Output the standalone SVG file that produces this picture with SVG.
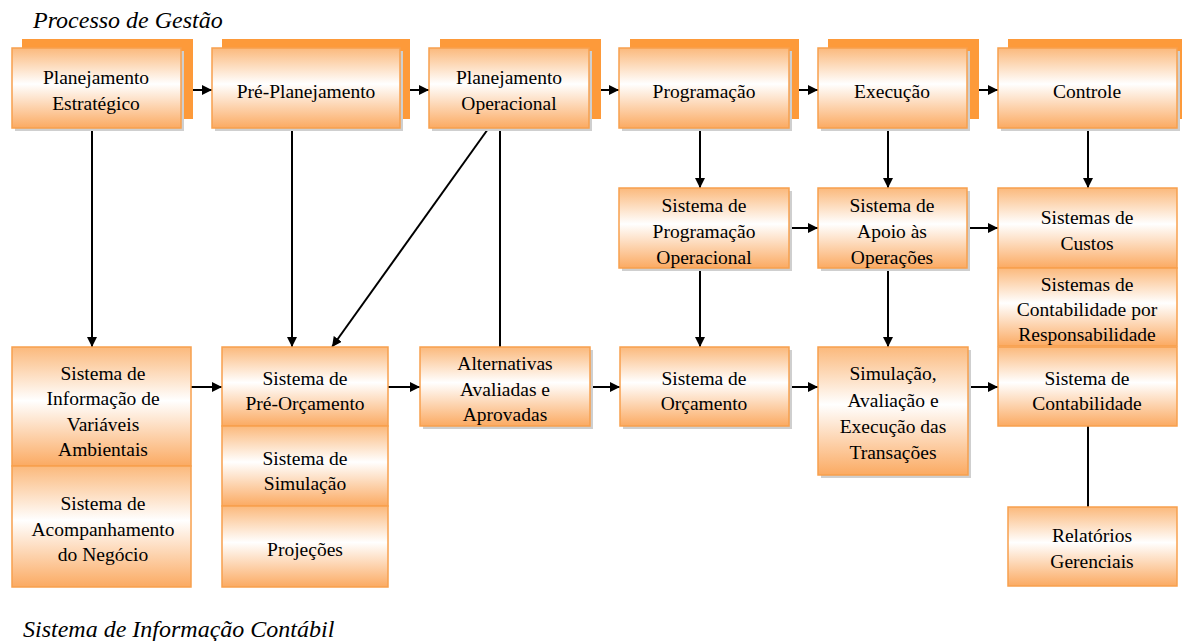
<svg xmlns="http://www.w3.org/2000/svg" width="1182" height="641" viewBox="0 0 1182 641" font-family="Liberation Serif, Times New Roman, DejaVu Serif, Noto Serif, serif">
<defs>
<linearGradient id="g" x1="0" y1="0" x2="0" y2="1">
<stop offset="0" stop-color="#fbb97c"/>
<stop offset="0.45" stop-color="#ffffff"/>
<stop offset="1" stop-color="#fbaa62"/>
</linearGradient>
<marker id="ah" viewBox="0 0 10 10" refX="10" refY="5" markerWidth="10" markerHeight="10" markerUnits="userSpaceOnUse" orient="auto">
<path d="M0,0 L10,5 L0,10 z" fill="#000"/>
</marker>
<style>
.b{fill:url(#g);stroke:#f7a04e;stroke-width:1.5}
.sh{fill:#cfcfcf}
.bk{fill:#fd9a3a}
.t{font-size:19.5px;fill:#000;text-anchor:middle}
.ti{font-size:24px;font-style:italic;fill:#000}
.c{stroke:#000;stroke-width:2;fill:none}
.a{marker-end:url(#ah)}
</style>
</defs>
<text class="ti" x="33" y="28">Processo de Gestão</text>
<text class="ti" x="23" y="637">Sistema de Informação Contábil</text>

<g id="connectors">
<line class="c a" x1="181" y1="90" x2="212" y2="90"/>
<line class="c a" x1="400" y1="90" x2="429" y2="90"/>
<line class="c a" x1="589" y1="90" x2="619" y2="90"/>
<line class="c a" x1="789" y1="90" x2="818" y2="90"/>
<line class="c a" x1="967" y1="90" x2="998" y2="90"/>
<line class="c a" x1="92" y1="128" x2="92" y2="347"/>
<line class="c a" x1="292" y1="128" x2="292" y2="347"/>
<line class="c a" x1="488" y1="129" x2="332" y2="347"/>
<line class="c" x1="500" y1="128" x2="500" y2="347"/>
<line class="c a" x1="700" y1="128" x2="700" y2="188"/>
<line class="c a" x1="888" y1="128" x2="888" y2="188"/>
<line class="c a" x1="1088" y1="128" x2="1088" y2="188"/>
<line class="c a" x1="789" y1="228" x2="818" y2="228"/>
<line class="c a" x1="967" y1="228" x2="998" y2="228"/>
<line class="c a" x1="700" y1="268" x2="700" y2="347"/>
<line class="c a" x1="888" y1="268" x2="888" y2="347"/>
<line class="c a" x1="191" y1="387" x2="222" y2="387"/>
<line class="c a" x1="388" y1="387" x2="420" y2="387"/>
<line class="c a" x1="590" y1="387" x2="620" y2="387"/>
<line class="c a" x1="789" y1="387" x2="818" y2="387"/>
<line class="c a" x1="968" y1="387" x2="998" y2="387"/>
<line class="c" x1="1088" y1="426" x2="1088" y2="507"/>
</g>

<g id="n1">
<rect class="bk" x="22" y="39" width="171" height="80"/>
<rect class="sh" x="15" y="51" width="169" height="80"/>
<rect class="b" x="12" y="48" width="169" height="80"/>
<text class="t" x="96" y="84">Planejamento</text>
<text class="t" x="96" y="110">Estratégico</text>
</g>
<g id="n2">
<rect class="bk" x="222" y="39" width="188" height="80"/>
<rect class="sh" x="215" y="51" width="188" height="80"/>
<rect class="b" x="212" y="48" width="188" height="80"/>
<text class="t" x="306" y="98">Pré-Planejamento</text>
</g>
<g id="n3">
<rect class="bk" x="440" y="39" width="161" height="80"/>
<rect class="sh" x="432" y="51" width="160" height="80"/>
<rect class="b" x="429" y="48" width="160" height="80"/>
<text class="t" x="509" y="84">Planejamento</text>
<text class="t" x="509" y="110">Operacional</text>
</g>
<g id="n4">
<rect class="bk" x="630" y="39" width="169" height="80"/>
<rect class="sh" x="622" y="51" width="170" height="80"/>
<rect class="b" x="619" y="48" width="170" height="80"/>
<text class="t" x="704" y="98">Programação</text>
</g>
<g id="n5">
<rect class="bk" x="828" y="39" width="151" height="80"/>
<rect class="sh" x="821" y="51" width="149" height="80"/>
<rect class="b" x="818" y="48" width="149" height="80"/>
<text class="t" x="892" y="98">Execução</text>
</g>
<g id="n6">
<rect class="bk" x="1008" y="39" width="174" height="80"/>
<rect class="sh" x="1001" y="51" width="179" height="80"/>
<rect class="b" x="998" y="48" width="179" height="80"/>
<text class="t" x="1087" y="98">Controle</text>
</g>

<g id="n7">
<rect class="sh" x="622" y="191" width="170" height="80"/>
<rect class="b" x="619" y="188" width="170" height="80"/>
<text class="t" x="704" y="212">Sistema de</text>
<text class="t" x="704" y="238">Programação</text>
<text class="t" x="704" y="264">Operacional</text>
</g>
<g id="n8">
<rect class="sh" x="821" y="191" width="149" height="80"/>
<rect class="b" x="818" y="188" width="149" height="80"/>
<text class="t" x="892" y="212">Sistema de</text>
<text class="t" x="892" y="238">Apoio às</text>
<text class="t" x="892" y="264">Operações</text>
</g>
<g id="n9">
<rect class="b" x="998" y="188" width="179" height="80"/>
<text class="t" x="1087" y="224">Sistemas de</text>
<text class="t" x="1087" y="250">Custos</text>
</g>
<g id="n10">
<rect class="b" x="998" y="268" width="179" height="78"/>
<text class="t" x="1087" y="291">Sistemas de</text>
<text class="t" x="1087" y="316">Contabilidade por</text>
<text class="t" x="1087" y="341">Responsabilidade</text>
</g>

<g id="n11">
<rect class="b" x="12" y="347" width="179" height="119"/>
<text class="t" x="103" y="380">Sistema de</text>
<text class="t" x="103" y="405">Informação de</text>
<text class="t" x="103" y="431">Variáveis</text>
<text class="t" x="103" y="456">Ambientais</text>
</g>
<g id="n12">
<rect class="b" x="12" y="466" width="179" height="121"/>
<text class="t" x="103" y="510">Sistema de</text>
<text class="t" x="103" y="536">Acompanhamento</text>
<text class="t" x="103" y="561">do Negócio</text>
</g>
<g id="n13">
<rect class="b" x="222" y="347" width="166" height="79"/>
<text class="t" x="305" y="385">Sistema de</text>
<text class="t" x="305" y="410">Pré-Orçamento</text>
</g>
<g id="n14">
<rect class="b" x="222" y="426" width="166" height="80"/>
<text class="t" x="305" y="465">Sistema de</text>
<text class="t" x="305" y="490">Simulação</text>
</g>
<g id="n15">
<rect class="b" x="222" y="506" width="166" height="81"/>
<text class="t" x="305" y="556">Projeções</text>
</g>
<g id="n16">
<rect class="sh" x="423" y="350" width="170" height="79"/>
<rect class="b" x="420" y="347" width="170" height="79"/>
<text class="t" x="505" y="370">Alternativas</text>
<text class="t" x="505" y="396">Avaliadas e</text>
<text class="t" x="505" y="421">Aprovadas</text>
</g>
<g id="n17">
<rect class="sh" x="623" y="350" width="169" height="79"/>
<rect class="b" x="620" y="347" width="169" height="79"/>
<text class="t" x="704" y="385">Sistema de</text>
<text class="t" x="704" y="410">Orçamento</text>
</g>
<g id="n18">
<rect class="sh" x="821" y="350" width="150" height="128"/>
<rect class="b" x="818" y="347" width="150" height="128"/>
<text class="t" x="893" y="380">Simulação,</text>
<text class="t" x="893" y="407">Avaliação e</text>
<text class="t" x="893" y="433">Execução das</text>
<text class="t" x="893" y="459">Transações</text>
</g>
<g id="n19">
<rect class="b" x="998" y="347" width="179" height="79"/>
<text class="t" x="1087" y="385">Sistema de</text>
<text class="t" x="1087" y="410">Contabilidade</text>
</g>
<g id="n20">
<rect class="b" x="1008" y="507" width="169" height="79"/>
<text class="t" x="1092" y="542">Relatórios</text>
<text class="t" x="1092" y="568">Gerenciais</text>
</g>
</svg>
